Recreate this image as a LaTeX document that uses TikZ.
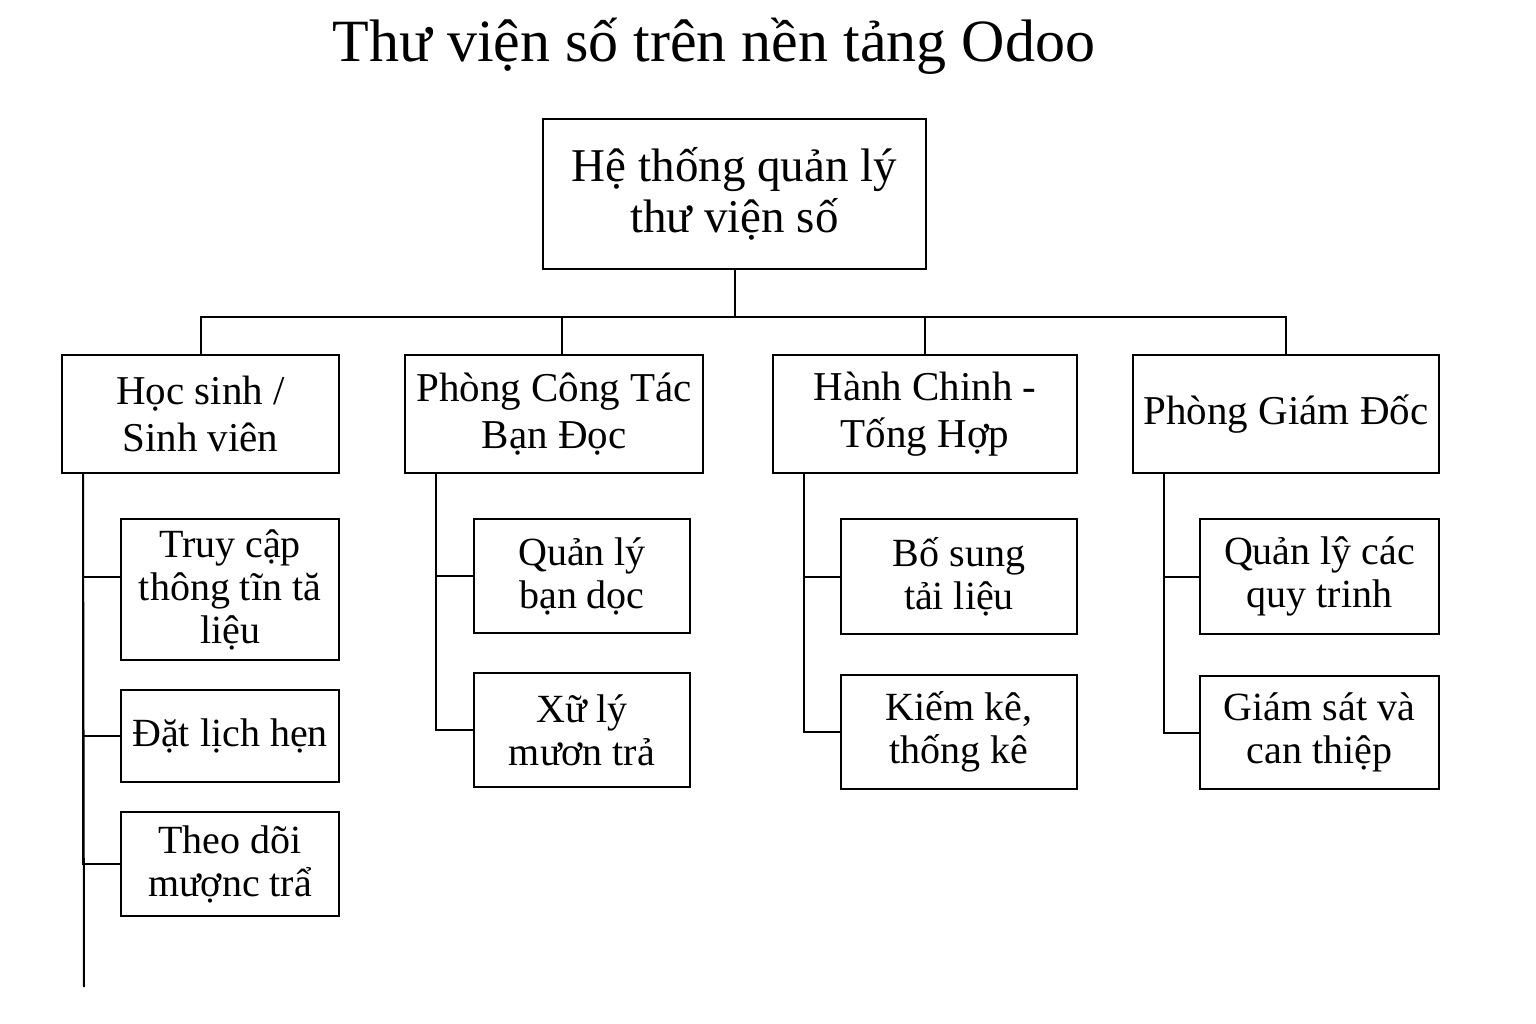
\documentclass[tikz,border=0pt]{standalone}
\usepackage{fontspec}
\setmainfont{Liberation Serif}

\begin{document}
\begin{tikzpicture}[x=1pt, y=-1pt,
    rootbox/.style={rectangle, draw=black, line width=2pt, inner sep=0pt,
                    minimum width=383pt, minimum height=150pt, align=center,
                    font=\fontsize{47}{51}\selectfont},
    dept/.style={rectangle, draw=black, line width=2pt, inner sep=0pt,
                 minimum height=118pt, align=center,
                 font=\fontsize{41}{47}\selectfont},
    task/.style={rectangle, draw=black, line width=2pt, inner sep=0pt,
                 align=center, font=\fontsize{40}{43}\selectfont},
    link/.style={draw=black, line width=2pt},
]
\useasboundingbox (0,0) rectangle (1536,1024);

% Title
\node[font=\fontsize{60}{70}\selectfont] (title) at (714,46) {Thư viện số trên nền tảng Odoo};

% Root
\node[rootbox] (root) at (734.5,194) {Hệ thống quản lý\\thư viện số};

% Departments
\node[dept, minimum width=277pt] (hs)  at (200.5,414) {Học sinh /\\Sinh viên};
\node[dept, minimum width=298pt] (pct) at (554,414) {Phòng Công Tác\\Bạn Đọc};
\node[dept, minimum width=304pt] (hc)  at (925,414) {Hành Chinh -\\Tống Hợp};
\node[dept, minimum width=306pt] (pgd) at (1286,414) {Phòng Giám Đốc};

% Tasks
\node[task, minimum width=218pt, minimum height=141pt] (hs1) at (230,589.5) {Truy cập\\thông tĩn tă\\liệu};
\node[task, minimum width=218pt, minimum height=92pt]  (hs2) at (230,736) {Đặt lịch hẹn};
\node[task, minimum width=218pt, minimum height=104pt] (hs3) at (230,864) {Theo dõi\\mượnc trẩ};

\node[task, minimum width=216pt, minimum height=114pt] (pct1) at (582,576) {Quản lý\\bạn dọc};
\node[task, minimum width=216pt, minimum height=114pt] (pct2) at (582,730) {Xữ lý\\mươn trả};

\node[task, minimum width=236pt, minimum height=115pt] (hc1) at (959,576.5) {Bố sung\\tải liệu};
\node[task, minimum width=236pt, minimum height=114pt] (hc2) at (959,732) {Kiếm kê,\\thống kê};

\node[task, minimum width=239pt, minimum height=115pt] (pgd1) at (1319.5,576.5) {Quản lŷ các\\quy trinh};
\node[task, minimum width=239pt, minimum height=113pt] (pgd2) at (1319.5,732.5) {Giám sát và\\can thiệp};

% Root -> departments
\foreach \d in {hs,hc,pgd} {
    \draw[link] (root.south) -- ++(0,47) -| (\d.north);
}
\draw[link] (root.south) -- ++(0,47) -| ([xshift=8pt]pct.north);

% Departments -> tasks
\coordinate (hsend) at (84,987);
\draw[link] ([xshift=22pt]hs.south west) -- (hsend);
\draw[link] ([xshift=22pt]hs.south west) |- ([yshift=13pt]hs1.west);
\foreach \t in {hs2,hs3} {
    \draw[link] ([xshift=22pt]hs.south west) |- (\t.west);
}
\foreach \t in {pct1,pct2} {
    \draw[link] ([xshift=32pt]pct.south west) |- (\t.west);
}
\foreach \t in {hc1,hc2} {
    \draw[link] ([xshift=32pt]hc.south west) |- (\t.west);
}
\foreach \t in {pgd1,pgd2} {
    \draw[link] ([xshift=32pt]pgd.south west) |- (\t.west);
}

\end{tikzpicture}
\end{document}
